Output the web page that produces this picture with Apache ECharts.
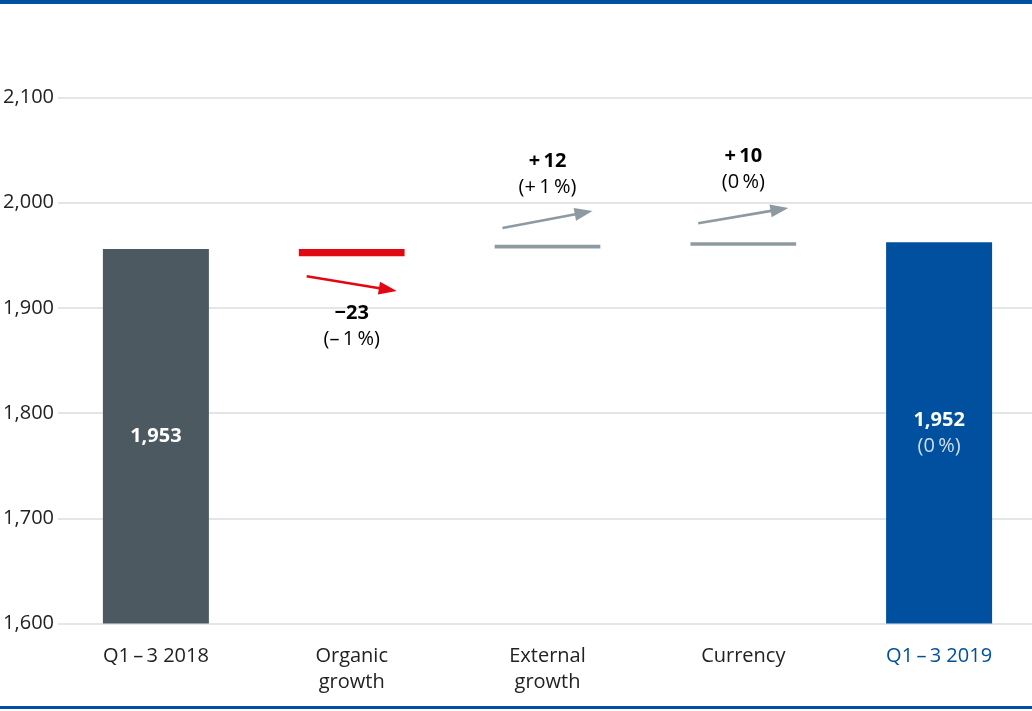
<!DOCTYPE html>
<html><head><meta charset="utf-8">
<script src="https://cdn.jsdelivr.net/npm/echarts@6/dist/echarts.min.js"></script>
<style>html,body{margin:0;padding:0;background:#fff}#c{width:1032px;height:711px}</style>
</head><body><div id="c"></div>
<script>
// ---- data ----
const categories = ['Q1\u2009–\u20093 2018', 'Organic\ngrowth', 'External\ngrowth', 'Currency', 'Q1\u2009–\u20093 2019'];
const yTicks = [1600, 1700, 1800, 1900, 2000, 2100];
// totals (drawn bar tops)
const totalBars = [1956, null, null, null, 1962.5];
const totalLabels = ['1,953', null, null, null, '1,952'];
const totalPcts = [null, null, null, null, '(0\u2009%)'];
// change steps
const stepCats = [1, 2, 3];
const stepLow = [1949, 1956.5, 1959];
const stepHigh = [1956, 1960, 1962.5];
const changes = [-23, 12, 10];
const changeLabels = ['\u221223', '+\u200912', '+\u200910'];
const changePcts = ['(–\u20091\u2009%)', '(+\u20091\u2009%)', '(0\u2009%)'];
const arrowFrom = [1930, 1976, 1980.5];
const arrowTo = [1916, 1992, 1995];

// ---- styles ----
const FONT = "'Open Sans', 'Noto Sans', sans-serif";
const BLUE = '#0050a0';
const SLATE = '#4d5960';
const RED = '#e30613';
const GREY = '#8e9aa1';
const TEXT = '#222222';
const FS = 20;

const chart = echarts.init(document.getElementById('c'), null, {renderer: 'canvas'});

const stepData = stepCats.map((c, k) => [c, stepLow[k], stepHigh[k], changes[k]]);
const arrowData = stepCats.map((c, k) => [c, arrowFrom[k], arrowTo[k], changes[k]]);

const option = {
  animation: false,
  backgroundColor: '#ffffff',
  textStyle: {fontFamily: FONT},
  graphic: [
    {type: 'rect', left: 0, top: 0, shape: {width: 1032, height: 4}, style: {fill: BLUE}},
    {type: 'rect', left: 0, top: 706, shape: {width: 1032, height: 3}, style: {fill: BLUE}}
  ],
  grid: {left: 58, right: -5, top: 97.5, bottom: 87.5, containLabel: false, outerBoundsMode: 'none'},
  xAxis: {
    type: 'category',
    data: categories,
    axisLine: {show: false},
    axisTick: {show: false},
    axisLabel: {
      interval: 0,
      margin: 20,
      fontFamily: FONT,
      fontSize: FS,
      lineHeight: 26,
      color: function (v, i) { return i === 4 ? BLUE : TEXT; }
    }
  },
  yAxis: {
    type: 'value',
    min: yTicks[0],
    max: yTicks[yTicks.length - 1],
    interval: yTicks[1] - yTicks[0],
    axisLine: {show: false},
    axisTick: {show: false},
    splitLine: {lineStyle: {color: '#d9dee2', width: 1.5}},
    axisLabel: {
      margin: 4,
      fontFamily: FONT,
      fontSize: FS,
      color: TEXT,
      formatter: function (v) { return v.toLocaleString('en-US'); }
    }
  },
  series: [
    {
      type: 'bar',
      barWidth: 106,
      data: totalBars.map(v => v === null ? '-' : v),
      itemStyle: {color: function (p) { return p.dataIndex === 4 ? BLUE : SLATE; }},
      label: {
        show: true,
        position: 'inside',
        formatter: function (p) {
          const i = p.dataIndex;
          let s = '{b|' + totalLabels[i] + '}';
          if (totalPcts[i]) s += '\n{n|' + totalPcts[i] + '}';
          return s;
        },
        rich: {
          b: {fontFamily: FONT, fontSize: FS, fontWeight: 'bold', color: '#ffffff', lineHeight: 26},
          n: {fontFamily: FONT, fontSize: FS, color: '#d3deec', lineHeight: 26}
        }
      }
    },
    {
      type: 'custom',
      data: stepData,
      renderItem: function (params, api) {
        const i = api.value(0);
        const pLow = api.coord([i, api.value(1)]);
        const pHigh = api.coord([i, api.value(2)]);
        const w = api.size([1, 0])[0] * 0.54;
        return {
          type: 'rect',
          shape: {x: pLow[0] - w / 2, y: pHigh[1], width: w, height: pLow[1] - pHigh[1]},
          style: {fill: api.value(3) < 0 ? RED : GREY}
        };
      }
    },
    {
      type: 'custom',
      data: arrowData,
      renderItem: function (params, api) {
        const k = params.dataIndex;
        const i = api.value(0);
        const half = api.size([1, 0])[0] * 0.23;
        const a = api.coord([i, api.value(1)]);
        const b = api.coord([i, api.value(2)]);
        const x1 = a[0] - half, y1 = a[1];
        const x2 = b[0] + half, y2 = b[1];
        const neg = api.value(3) < 0;
        const col = neg ? RED : GREY;
        const dx = x2 - x1, dy = y2 - y1;
        const len = Math.sqrt(dx * dx + dy * dy);
        const ux = dx / len, uy = dy / len;
        const hl = 18, hw = 6.5;
        const bx = x2 - ux * hl, by = y2 - uy * hl;
        const px = -uy, py = ux;
        const children = [
          {type: 'line', shape: {x1: x1, y1: y1, x2: bx + ux * 2, y2: by + uy * 2}, style: {stroke: col, lineWidth: 2.6}},
          {type: 'polygon', shape: {points: [[x2, y2], [bx + px * hw, by + py * hw], [bx - px * hw, by - py * hw]]}, style: {fill: col}}
        ];
        const txt = '{b|' + changeLabels[k] + '}\n{n|' + changePcts[k] + '}';
        const rich = {
          b: {fontFamily: FONT, fontSize: FS, fontWeight: 'bold', color: '#111111', lineHeight: 26, align: 'center'},
          n: {fontFamily: FONT, fontSize: FS, color: TEXT, lineHeight: 26, align: 'center'}
        };
        const cx = a[0];
        if (neg) {
          children.push({type: 'text', x: cx, y: y2 + 9, style: {text: txt, rich: rich, align: 'center', verticalAlign: 'top'}});
        } else {
          children.push({type: 'text', x: cx, y: y1 - 28, style: {text: txt, rich: rich, align: 'center', verticalAlign: 'bottom'}});
        }
        return {type: 'group', children: children};
      }
    }
  ]
};
chart.setOption(option);
</script>
</body></html>
